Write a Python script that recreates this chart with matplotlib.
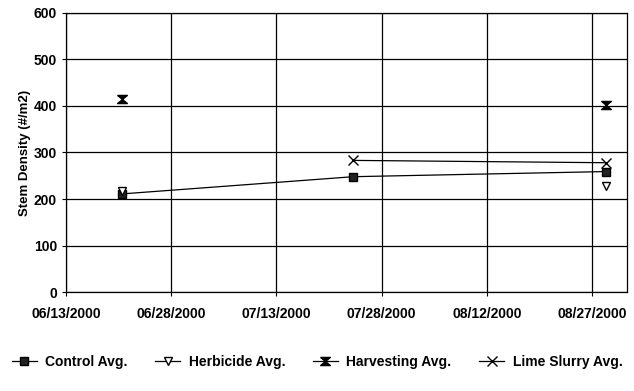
import matplotlib
matplotlib.use('Agg')
import matplotlib.pyplot as plt
import matplotlib.dates as mdates
import numpy as np
from datetime import datetime

plt.rcParams['font.family'] = ['Liberation Sans', 'DejaVu Sans']
plt.rcParams['font.weight'] = 'bold'

dates = [datetime(2000, 6, 21), datetime(2000, 7, 24), datetime(2000, 8, 29)]
control = [211, 248, 259]
herbicide = [218, np.nan, 228]
harvesting = [414, np.nan, 402]
lime_slurry = [np.nan, 283, 278]

tick_dates = [datetime(2000, 6, 13), datetime(2000, 6, 28), datetime(2000, 7, 13),
              datetime(2000, 7, 28), datetime(2000, 8, 12), datetime(2000, 8, 27)]

# hourglass marker
hourglass = [(-1.2, 1), (1.2, 1), (0, 0), (1.2, -1), (-1.2, -1), (0, 0), (-1.2, 1)]

fig = plt.figure(figsize=(6.34, 3.91), dpi=100)
ax = fig.add_axes([0.104, 0.253, 0.885, 0.714])

ax.plot(dates, control, color='black', lw=0.9, marker='s', ms=6,
        mfc='#222222', mec='black', label='Control Avg.')
ax.plot(dates, herbicide, color='black', lw=0.9, marker='v', ms=6,
        mfc='white', mec='black', label='Herbicide Avg.')
ax.plot(dates, harvesting, color='black', lw=0.9, marker=hourglass, ms=7,
        mfc='black', mec='black', label='Harvesting Avg.')
ax.plot(dates, lime_slurry, color='black', lw=0.9, marker='x', ms=7,
        mew=1.0, label='Lime Slurry Avg.')

ax.set_xlim(datetime(2000, 6, 13), datetime(2000, 9, 1))
ax.set_ylim(0, 600)
ax.set_xticks(tick_dates)
ax.xaxis.set_major_formatter(mdates.DateFormatter('%m/%d/%Y'))
ax.set_yticks(range(0, 601, 100))
ax.grid(True, color='black', lw=0.9)
ax.tick_params(labelsize=10, length=3, color='black')
ax.tick_params(axis='x', pad=8)
for lab in ax.get_xticklabels() + ax.get_yticklabels():
    lab.set_fontweight('bold')
for s in ax.spines.values():
    s.set_linewidth(0.9)
ax.set_ylabel('Stem Density (#/m2)', fontsize=9.5, fontweight='bold', labelpad=2)

fig.legend(loc='center', bbox_to_anchor=(0.5, 0.075), ncol=4, frameon=False,
           fontsize=10, handlelength=1.8, columnspacing=2.0, handletextpad=0.6)

fig.savefig('out.png', dpi=100)
